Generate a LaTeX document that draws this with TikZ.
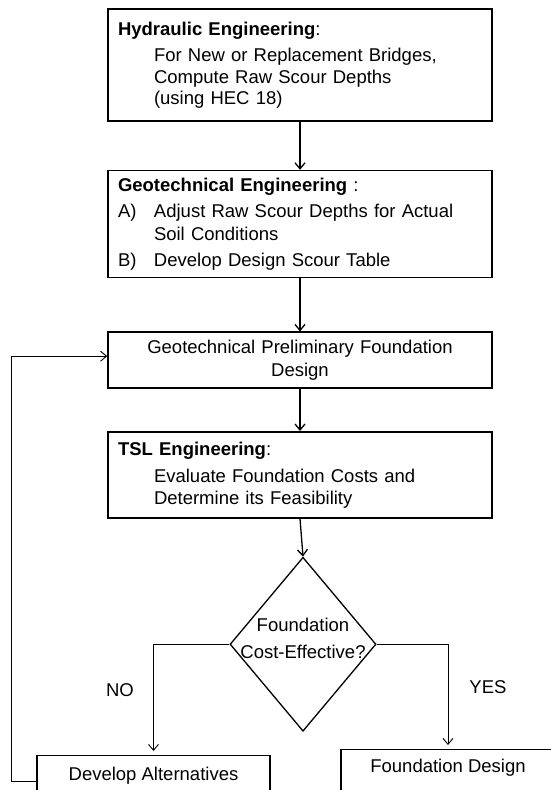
\documentclass[tikz,border=0pt]{standalone}
\usepackage{fontspec}
\setmainfont{Liberation Sans}
\usetikzlibrary{arrows.meta,positioning,shapes.geometric}

\begin{document}
\begin{tikzpicture}[
  x=1pt, y=-1pt,
  node distance=48pt,
  every node/.style={font=\fontsize{18.5}{22}\selectfont},
  procbox/.style={draw=black,line width=1.6pt,minimum width=384pt,inner xsep=10pt,inner ysep=0pt,text width=364pt,align=left},
  endbox/.style={draw=black,line width=1.4pt,inner ysep=12pt,text height=13pt,align=center},
  decision/.style={draw=black,line width=1.3pt,diamond,minimum width=146pt,minimum height=174pt,inner sep=0pt},
  arr/.style={-{Straight Barb[length=6pt,width=10pt]},line width=1.3pt},
  sidearr/.style={-{Straight Barb[length=6pt,width=10pt]},line width=0.9pt}
]
\useasboundingbox (0,0) rectangle (551,790);
\clip (0,0) rectangle (551,790);

\node[procbox,minimum height=112pt,font=\fontsize{18.5}{21.5}\selectfont] (hyd) at (300,65)
  {\textbf{Hydraulic Engineering}:\\[5pt]
   \hspace*{36pt}For New or Replacement Bridges,\\
   \hspace*{36pt}Compute Raw Scour Depths\\
   \hspace*{36pt}(using HEC 18)};
\node[procbox,minimum height=107pt,font=\fontsize{18.5}{23}\selectfont,below=of hyd] (geo)
  {\textbf{Geotechnical Engineering} :\\[3pt]
   \makebox[36pt][l]{A)}Adjust Raw Scour Depths for Actual\\
   \hspace*{36pt}Soil Conditions\\[3pt]
   \makebox[36pt][l]{B)}Develop Design Scour Table};
\node[procbox,minimum height=56pt,align=center,font=\fontsize{18.5}{22.5}\selectfont,below=53pt of geo] (prelim)
  {Geotechnical Preliminary Foundation\\Design};
\node[procbox,minimum height=86pt,below=42pt of prelim] (tsl)
  {\textbf{TSL Engineering}:\\[5pt]
   \hspace*{36pt}Evaluate Foundation Costs and\\
   \hspace*{36pt}Determine its Feasibility};

\node[decision,below=38pt of tsl,xshift=3pt] (dec) {};
\node[align=center,font=\fontsize{18.5}{27}\selectfont] (dectext) at ([yshift=6pt]dec.center)
  {Foundation\\Cost-Effective?};

\node[endbox,minimum width=233pt,text depth=15pt,anchor=north] (alt) at (153.5,755) {Develop Alternatives};
\node[endbox,minimum width=214pt,inner ysep=10pt,text depth=40pt,anchor=north] (fd) at (448,749) {Foundation Design};

\node (nolbl) at (120,690) {NO};
\node (yeslbl) at (488,687) {YES};

\draw[arr] (hyd) -- (geo);
\draw[arr] (geo) -- (prelim);
\draw[arr] (prelim) -- (tsl);
\draw[arr] (tsl.south) -- (dec.north);
\draw[sidearr,shorten >=4pt] (dec.west) -| (alt.north);
\draw[sidearr,shorten >=4pt] (dec.east) -| (fd.north);
\draw[sidearr] (alt.west) -- ++(-25pt,0) |- ([yshift=4pt]prelim.west);
\end{tikzpicture}
\end{document}
